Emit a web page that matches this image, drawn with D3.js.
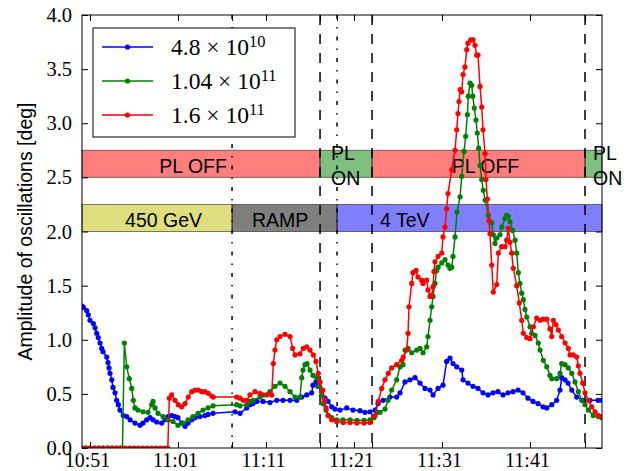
<!DOCTYPE html>
<html><head><meta charset="utf-8">
<script src="https://cdn.jsdelivr.net/npm/d3@7"></script>
<style>body{margin:0;background:#fff}svg{display:block}</style>
</head><body><svg id="c" width="631" height="471"></svg>
<script>
// ---------- data (time in minutes after 10:51) ----------
const xDomain = [-0.91, 58.18];
const yDomain = [0, 4];
const xTickTimes = [0, 10, 20, 30, 40, 50];
const xTickLabels = ["10:51", "11:01", "11:11", "11:21", "11:31", "11:41"];
const yTicks = [0, 0.5, 1, 1.5, 2, 2.5, 3, 3.5, 4];
const yTickLabels = ["0.0","0.5","1.0","1.5","2.0","2.5","3.0","3.5","4.0"];
const yLabel = "Amplitude of oscillations [deg]";

const dashDotTimes = [16.14, 28.07];
const dashedTimes = [26.14, 32.05, 56.25];

const plLevel = [2.5, 2.75];
const plStarts = [-0.91, 26.14, 32.05, 56.25];
const plEnds = [26.14, 32.05, 56.25, 58.18];
const plLabels = [["PL OFF"], ["PL", "ON"], ["PL OFF"], ["PL", "ON"]];
const plLabelTimes = [7.88, 27.39, 41.1, 57.16];
const plKinds = ["off", "on", "off", "on"];

const energyLevel = [2.0, 2.25];
const energyStarts = [-0.91, 16.14, 28.07];
const energyEnds = [16.14, 28.07, 58.18];
const energyLabels = ["450 GeV", "RAMP", "4 TeV"];
const energyLabelTimes = [3.98, 18.41, 32.95];

const seriesMantissa = ["4.8 \u00d7 10", "1.04 \u00d7 10", "1.6 \u00d7 10"];
const seriesExponent = ["10", "11", "11"];

const blue = [[-0.91,1.31],[-0.76,1.30],[-0.38,1.27],[-0.19,1.23],[0,1.18],[0.38,1.15],[0.57,1.11],[0.76,1.06],[0.94,1.02],[1.14,0.97],[1.33,0.92],[1.48,0.89],[1.90,0.84],[2.05,0.79],[2.16,0.74],[2.27,0.69],[2.47,0.63],[2.61,0.56],[2.84,0.51],[3.03,0.44],[3.22,0.40],[3.41,0.35],[3.78,0.30],[4.17,0.29],[4.55,0.26],[5.11,0.23],[5.68,0.21],[6.02,0.23],[6.44,0.26],[6.82,0.28],[7.16,0.26],[7.58,0.24],[8.15,0.23],[8.52,0.26],[8.86,0.29],[9.28,0.30],[9.66,0.29],[10.0,0.28],[10.42,0.23],[10.80,0.20],[11.14,0.23],[11.56,0.26],[11.93,0.28],[12.50,0.29],[13.07,0.30],[13.41,0.31],[13.98,0.32],[16.48,0.335],[17.05,0.32],[17.81,0.37],[18.18,0.40],[18.52,0.41],[18.94,0.43],[19.66,0.43],[20.45,0.42],[21.22,0.44],[21.93,0.44],[22.73,0.44],[23.49,0.44],[24.06,0.47],[24.63,0.49],[25.19,0.51],[25.34,0.58],[25.68,0.61],[25.91,0.57],[26.33,0.52],[26.70,0.46],[27.05,0.43],[27.47,0.38],[27.84,0.36],[28.41,0.35],[29.17,0.37],[29.89,0.35],[30.68,0.345],[31.25,0.33],[31.82,0.335],[32.39,0.35],[32.73,0.41],[33.30,0.44],[34.09,0.47],[34.85,0.47],[35.23,0.51],[35.80,0.61],[36.36,0.63],[36.93,0.65],[37.50,0.60],[38.07,0.55],[38.64,0.535],[38.98,0.49],[39.55,0.55],[40.11,0.58],[40.53,0.80],[40.91,0.83],[41.25,0.78],[41.67,0.75],[42.24,0.72],[42.39,0.63],[42.95,0.60],[43.52,0.57],[44.09,0.55],[44.66,0.51],[45.23,0.49],[45.80,0.51],[46.36,0.52],[46.93,0.49],[47.50,0.51],[48.07,0.52],[48.64,0.535],[49.20,0.51],[49.77,0.46],[50.34,0.43],[50.91,0.41],[51.48,0.38],[51.90,0.37],[52.47,0.40],[53.03,0.44],[53.41,0.535],[53.60,0.65],[53.98,0.63],[54.32,0.60],[54.74,0.535],[55.31,0.47],[56.02,0.44],[56.82,0.44],[57.73,0.44],[58.15,0.44]];

const green = [[-0.91,0],[-0.5,0],[0,0],[0.5,0],[1,0],[1.5,0],[2,0],[2.5,0],[3,0],[3.4,0],[3.69,0],[3.90,0.97],[4.17,0.75],[4.47,0.64],[4.74,0.55],[4.92,0.44],[5.11,0.37],[5.45,0.35],[6.02,0.335],[6.59,0.33],[7.01,0.40],[7.16,0.43],[7.39,0.37],[7.73,0.32],[8.30,0.29],[8.86,0.26],[9.43,0.245],[10.0,0.21],[10.57,0.23],[11.14,0.26],[11.70,0.29],[12.27,0.32],[12.84,0.35],[13.41,0.37],[13.98,0.39],[16.67,0.40],[17.05,0.39],[17.81,0.40],[18.18,0.43],[18.52,0.44],[19.32,0.47],[19.66,0.49],[20.45,0.52],[21.02,0.57],[21.59,0.60],[22.16,0.57],[22.73,0.52],[23.30,0.47],[23.86,0.47],[24.06,0.65],[24.20,0.72],[24.43,0.77],[24.66,0.78],[25.00,0.72],[25.34,0.67],[25.76,0.65],[26.02,0.57],[26.33,0.49],[26.48,0.41],[26.82,0.35],[27.05,0.30],[27.47,0.28],[28.03,0.26],[28.75,0.26],[29.55,0.26],[30.34,0.255],[31.14,0.255],[31.82,0.26],[32.27,0.28],[32.61,0.33],[32.95,0.33],[33.52,0.36],[33.86,0.44],[34.28,0.535],[34.85,0.63],[35.23,0.75],[35.57,0.77],[35.80,0.905],[36.14,0.92],[36.56,0.88],[37.13,0.905],[37.50,0.92],[37.84,0.88],[38.26,0.935],[38.41,1.03],[38.64,1.18],[38.83,1.305],[38.98,1.40],[39.20,1.52],[39.40,1.64],[39.55,1.67],[39.97,1.71],[40.34,1.74],[40.68,1.69],[40.91,1.66],[41.10,1.67],[41.25,1.77],[41.48,1.95],[41.70,2.18],[42.05,2.32],[42.24,2.51],[42.50,2.74],[42.69,2.88],[42.88,3.08],[42.99,3.25],[43.18,3.37],[43.38,3.35],[43.49,3.25],[43.67,3.14],[43.86,3.03],[44.01,2.91],[44.17,2.77],[44.32,2.61],[44.51,2.48],[44.69,2.38],[44.89,2.29],[45.26,2.15],[45.65,2.08],[45.83,1.97],[46.02,1.89],[46.22,1.94],[46.59,1.97],[46.78,2.04],[47.16,2.12],[47.35,2.15],[47.53,2.14],[47.73,2.09],[48.03,2.01],[48.30,1.92],[48.49,1.80],[48.67,1.62],[48.86,1.52],[49.06,1.43],[49.24,1.37],[49.43,1.28],[49.63,1.21],[50.0,1.12],[50.19,1.06],[50.57,1.04],[50.94,0.97],[51.14,0.905],[51.51,0.81],[51.90,0.75],[52.27,0.67],[52.47,0.64],[53.03,0.64],[53.41,0.69],[53.60,0.78],[53.98,0.77],[54.35,0.74],[54.74,0.69],[55.11,0.61],[55.49,0.52],[55.88,0.44],[56.25,0.40],[56.63,0.35],[57.19,0.30],[57.76,0.29],[58.15,0.28]];

const red = [[-0.91,0],[-0.5,0],[0,0],[0.5,0],[1,0],[1.5,0],[2,0],[2.5,0],[3,0],[3.5,0],[4,0],[4.5,0],[5,0],[5.5,0],[6,0],[6.5,0],[7,0],[7.5,0],[8,0],[8.5,0],[8.84,0],[9.01,0.46],[9.28,0.49],[9.66,0.44],[10.03,0.40],[10.42,0.38],[10.80,0.41],[11.17,0.47],[11.56,0.52],[11.93,0.535],[12.31,0.535],[12.69,0.52],[13.07,0.52],[13.44,0.505],[13.83,0.48],[14.01,0.47],[16.67,0.47],[17.05,0.46],[17.42,0.44],[17.81,0.44],[18.18,0.49],[18.75,0.52],[19.32,0.505],[20.08,0.49],[20.65,0.49],[20.83,0.78],[21.02,0.905],[21.22,1.00],[21.59,1.03],[22.16,1.05],[22.73,1.03],[23.03,0.92],[23.30,0.86],[23.86,0.87],[24.24,0.92],[24.63,0.935],[25.00,0.905],[25.38,0.86],[25.68,0.80],[25.94,0.69],[26.14,0.61],[26.44,0.535],[26.63,0.44],[26.82,0.37],[27.08,0.30],[27.47,0.26],[28.03,0.245],[28.78,0.235],[29.55,0.235],[30.34,0.23],[31.14,0.23],[31.82,0.235],[32.39,0.30],[32.76,0.43],[33.15,0.55],[33.52,0.63],[33.90,0.69],[34.28,0.74],[34.85,0.77],[35.42,0.81],[35.60,0.84],[35.99,0.905],[36.14,1.06],[36.25,1.305],[36.56,1.52],[36.70,1.62],[37.05,1.64],[37.27,1.58],[37.69,1.55],[37.84,1.52],[38.26,1.55],[38.41,1.46],[38.64,1.40],[38.83,1.41],[38.98,1.49],[39.09,1.63],[39.20,1.72],[39.55,1.77],[39.97,1.80],[40.11,1.95],[40.34,2.04],[40.53,2.21],[40.68,2.35],[41.10,2.57],[41.48,2.75],[41.67,2.94],[41.82,3.09],[41.93,3.20],[42.05,3.31],[42.24,3.29],[42.39,3.45],[42.61,3.52],[42.81,3.68],[42.95,3.74],[43.26,3.77],[43.52,3.77],[43.75,3.72],[43.94,3.63],[44.09,3.63],[44.32,3.34],[44.51,3.15],[44.66,2.94],[44.89,2.72],[45.00,2.48],[45.15,2.30],[45.34,2.10],[45.45,1.98],[45.65,1.69],[45.83,1.44],[46.22,1.51],[46.40,1.80],[46.78,1.86],[47.16,1.86],[47.35,1.92],[47.53,2.03],[47.73,1.90],[47.92,1.80],[48.10,1.66],[48.49,1.50],[48.78,1.34],[49.06,1.18],[49.24,1.06],[49.63,1.02],[50.0,1.01],[50.38,1.12],[50.76,1.20],[51.14,1.18],[51.48,1.19],[51.90,1.19],[52.27,1.10],[52.47,1.03],[52.65,1.18],[52.95,1.14],[53.22,1.09],[53.60,1.03],[53.98,0.97],[54.35,0.92],[54.55,0.86],[54.92,0.86],[55.31,0.84],[55.49,0.76],[55.68,0.69],[55.99,0.60],[56.25,0.51],[56.63,0.44],[57.01,0.38],[57.39,0.335],[57.76,0.30],[58.15,0.29]];

const seriesData = [blue, green, red];

// ---------- styles ----------
const seriesColors = ["#0000ff", "#008000", "#ff0000"];
const plColors = {off: "#ff0000", on: "#008000"};
const energyColors = ["#bfbf00", "#000000", "#0000ff"];
const sansFont = "'Liberation Sans', Arial, sans-serif";
const serifFont = "'Liberation Serif', 'Times New Roman', serif";

// ---------- layout ----------
const svg = d3.select("#c");
svg.append("rect").attr("width", 631).attr("height", 471).attr("fill", "#fff");
const L = 82, R = 602, T = 15, B = 448;
const x = d3.scaleLinear().domain(xDomain).range([L, R]);
const y = d3.scaleLinear().domain(yDomain).range([B, T]);

svg.append("clipPath").attr("id", "clip").append("rect")
  .attr("x", L).attr("y", T).attr("width", R - L).attr("height", B - T);

// bands
const bandG = svg.append("g");
function band(starts, ends, level, colorOf) {
  starts.forEach((s, i) => {
    bandG.append("rect")
      .attr("x", x(s)).attr("width", x(ends[i]) - x(s))
      .attr("y", y(level[1])).attr("height", y(level[0]) - y(level[1]))
      .attr("fill", colorOf(i)).attr("fill-opacity", 0.5)
      .attr("stroke", "#000").attr("stroke-opacity", 0.5).attr("stroke-width", 1);
  });
}
band(plStarts, plEnds, plLevel, i => plColors[plKinds[i]]);
band(energyStarts, energyEnds, energyLevel, i => energyColors[i]);

// band labels
const plMid = y((plLevel[0] + plLevel[1]) / 2);
plLabels.forEach((lines, i) => {
  const t = bandG.append("text").attr("font-family", sansFont).attr("font-size", 19.5)
    .attr("fill", "#000");
  if (lines.length === 1) {
    t.append("tspan").attr("x", x(plLabelTimes[i])).attr("y", plMid + 9.5).text(lines[0]);
  } else {
    t.append("tspan").attr("x", x(plLabelTimes[i])).attr("y", plMid - 4).text(lines[0]);
    t.append("tspan").attr("x", x(plLabelTimes[i])).attr("y", plMid + 21).text(lines[1]);
  }
});
const enMid = y((energyLevel[0] + energyLevel[1]) / 2);
energyLabels.forEach((lab, i) => {
  bandG.append("text").attr("font-family", sansFont).attr("font-size", 19.5)
    .attr("x", x(energyLabelTimes[i])).attr("y", enMid + 9.5).text(lab);
});

// vertical lines
const vG = svg.append("g");
dashDotTimes.forEach(t => vG.append("line").attr("x1", x(t)).attr("x2", x(t))
  .attr("y1", T).attr("y2", B).attr("stroke", "#000").attr("stroke-width", 1.5)
  .attr("stroke-dasharray", "4,8,1.5,8"));
dashedTimes.forEach(t => vG.append("line").attr("x1", x(t)).attr("x2", x(t))
  .attr("y1", T).attr("y2", B).attr("stroke", "#000").attr("stroke-width", 1.5)
  .attr("stroke-dasharray", "10,9"));

// series
const line = d3.line().x(d => x(d[0])).y(d => y(d[1]));
const dataG = svg.append("g").attr("clip-path", "url(#clip)");
seriesData.forEach((data, i) => {
  const g = dataG.append("g");
  g.append("path").datum(data).attr("d", line).attr("fill", "none")
    .attr("stroke", seriesColors[i]).attr("stroke-width", 1.5);
  g.selectAll("circle").data(data).join("circle")
    .attr("cx", d => x(d[0])).attr("cy", d => y(d[1])).attr("r", 2.6)
    .attr("fill", seriesColors[i]);
});

// frame
svg.append("rect").attr("x", L).attr("y", T).attr("width", R - L).attr("height", B - T)
  .attr("fill", "none").attr("stroke", "#000").attr("stroke-width", 1);

// axes
const extraTicks = dashDotTimes.concat(dashedTimes);
function styleAxis(g) {
  g.select(".domain").remove();
  g.selectAll(".tick line").attr("stroke", "#000").attr("stroke-width", 1);
}
svg.append("g").attr("transform", `translate(0,${B})`)
  .call(d3.axisBottom(x).tickValues(xTickTimes).tickSize(-6).tickPadding(5)
    .tickFormat((d, i) => xTickLabels[i]))
  .call(styleAxis)
  .call(g => g.selectAll("text").attr("font-family", serifFont).attr("font-size", 20)
    .attr("fill", "#000").attr("dx", -3));
svg.append("g").attr("transform", `translate(0,${B})`)
  .call(d3.axisBottom(x).tickValues(extraTicks).tickSize(-6).tickFormat(""))
  .call(styleAxis);
svg.append("g").attr("transform", `translate(0,${T})`)
  .call(d3.axisTop(x).tickValues(xTickTimes.concat(extraTicks)).tickSize(-6).tickFormat(""))
  .call(styleAxis);
svg.append("g").attr("transform", `translate(${L},0)`)
  .call(d3.axisLeft(y).tickValues(yTicks).tickSize(-6).tickPadding(10)
    .tickFormat((d, i) => yTickLabels[i]))
  .call(styleAxis)
  .call(g => g.selectAll("text").attr("font-family", serifFont).attr("font-size", 20.5)
    .attr("fill", "#000"));
svg.append("g").attr("transform", `translate(${R},0)`)
  .call(d3.axisRight(y).tickValues(yTicks).tickSize(-6).tickFormat(""))
  .call(styleAxis);

// y label
svg.append("text").attr("transform", `translate(32,${(T + B) / 2}) rotate(-90)`)
  .attr("text-anchor", "middle").attr("font-family", sansFont).attr("font-size", 19.5)
  .text(yLabel);

// legend
const lg = svg.append("g");
lg.append("rect").attr("x", 93).attr("y", 28).attr("width", 202).attr("height", 109)
  .attr("fill", "#fff").attr("stroke", "#000").attr("stroke-width", 1);
seriesMantissa.forEach((m, i) => {
  const ry = 47 + i * 34;
  lg.append("line").attr("x1", 102).attr("x2", 153).attr("y1", ry).attr("y2", ry)
    .attr("stroke", seriesColors[i]).attr("stroke-width", 1.5);
  lg.append("circle").attr("cx", 127.5).attr("cy", ry).attr("r", 2.6).attr("fill", seriesColors[i]);
  const t = lg.append("text").attr("x", 171).attr("y", ry + 8)
    .attr("font-family", serifFont).attr("font-size", 23.5).attr("fill", "#000");
  t.append("tspan").text(m);
  t.append("tspan").attr("dy", -8.5).attr("font-size", 16.5).text(seriesExponent[i]);
});
</script></body></html>
